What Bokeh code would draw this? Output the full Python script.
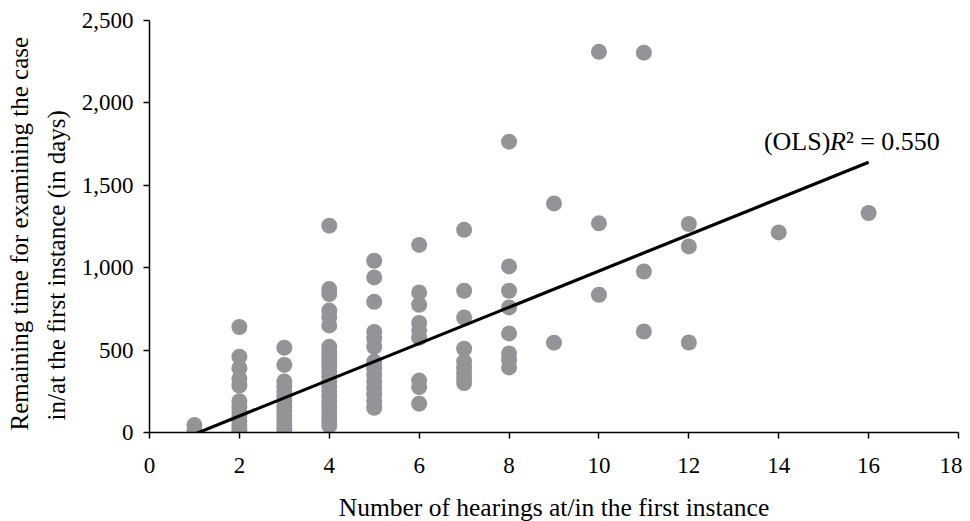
from bokeh.plotting import figure
from bokeh.models import Range1d, FixedTicker, NumeralTickFormatter, Label, Title, ColumnDataSource
from bokeh.embed import file_html
from bokeh.resources import INLINE

# ---- data ----
hearings_1 = [1, 1]
days_1 = [45, 5]
hearings_2 = [2] * 13
days_2 = [640, 460, 390, 325, 285, 190, 160, 130, 100, 70, 40, 15, 0]
hearings_3 = [3] * 13
days_3 = [515, 410, 310, 280, 250, 220, 190, 160, 130, 100, 70, 40, 20]
hearings_4 = [4] * 23
days_4 = [1255, 870, 840, 740, 700, 650, 520, 490, 460, 430, 400, 370, 340,
          310, 280, 250, 220, 190, 160, 130, 100, 70, 40]
hearings_5 = [5] * 14
days_5 = [1042, 941, 793, 610, 570, 520, 430, 390, 350, 310, 270, 230, 190, 150]
hearings_6 = [6] * 9
days_6 = [1138, 850, 775, 665, 620, 575, 315, 275, 175]
hearings_7 = [7] * 9
days_7 = [1230, 860, 698, 508, 430, 395, 360, 330, 300]
hearings_8 = [8] * 8
days_8 = [1765, 1008, 860, 759, 601, 480, 440, 395]
hearings_9 = [9, 9]
days_9 = [1390, 545]
hearings_10 = [10, 10, 10]
days_10 = [2310, 1269, 836]
hearings_11 = [11, 11, 11]
days_11 = [2305, 977, 613]
hearings_12 = [12, 12, 12]
days_12 = [1265, 1129, 546]
hearings_14 = [14]
days_14 = [1214]
hearings_16 = [16]
days_16 = [1332]

hearings = (hearings_1 + hearings_2 + hearings_3 + hearings_4 + hearings_5 + hearings_6 +
            hearings_7 + hearings_8 + hearings_9 + hearings_10 + hearings_11 + hearings_12 +
            hearings_14 + hearings_16)
days = (days_1 + days_2 + days_3 + days_4 + days_5 + days_6 + days_7 + days_8 +
        days_9 + days_10 + days_11 + days_12 + days_14 + days_16)

# OLS fit line (as drawn in the reference)
ols_x = [1, 16]
ols_intercept = -120
ols_slope = 110
ols_y = [ols_intercept + ols_slope * v for v in ols_x]

x_ticks = [0, 2, 4, 6, 8, 10, 12, 14, 16, 18]
y_ticks = [0, 500, 1000, 1500, 2000, 2500]

x_title = "Number of hearings at/in the first instance"
y_title_1 = "Remaining time for examining the case"
y_title_2 = "in/at the first instance (in days)"

FONT = "Liberation Serif"
DOT = "#939498"

p = figure(frame_width=809, frame_height=412, x_range=Range1d(0, 18), y_range=Range1d(0, 2500),
           output_backend="svg", toolbar_location=None,
           min_border_left=149, min_border_right=4, min_border_top=20, min_border_bottom=80)
p.outline_line_color = None
p.grid.visible = False
p.background_fill_color = "white"
p.border_fill_color = "white"

src = ColumnDataSource(dict(x=hearings, y=days))
p.scatter("x", "y", source=src, size=16, fill_color=DOT, line_color=None)
p.line(ols_x, ols_y, line_color="black", line_width=3.2)

for ax in (p.xaxis[0], p.yaxis[0]):
    ax.axis_line_color = "black"
    ax.axis_line_width = 1.5
    ax.major_tick_line_color = "black"
    ax.major_tick_line_width = 1.5
    ax.major_tick_in = 0
    ax.major_tick_out = 6
    ax.minor_tick_line_color = None
    ax.major_label_text_font = FONT
    ax.major_label_text_font_size = "23px"
    ax.major_label_text_color = "black"
    ax.axis_label_text_font = FONT
    ax.axis_label_text_font_size = "25.5px"
    ax.axis_label_text_font_style = "normal"
    ax.axis_label_text_color = "black"

p.xaxis.ticker = FixedTicker(ticks=x_ticks)
p.yaxis.ticker = FixedTicker(ticks=y_ticks)
p.yaxis.formatter = NumeralTickFormatter(format="0,0")
p.xaxis.axis_label = x_title
p.xaxis.major_label_standoff = 19
p.yaxis.major_label_standoff = 10
p.xaxis.axis_label_standoff = 17

# y-axis title, two lines (inner line added first, next to the axis),
# each starting near the bottom of the plot area like the reference
t2 = Title(text=y_title_2, align="left", offset=12, standoff=17,
           text_font=FONT, text_font_size="25px", text_font_style="normal", text_color="black")
t1 = Title(text=y_title_1, align="left", offset=2, standoff=0,
           text_font=FONT, text_font_size="25px", text_font_style="normal", text_color="black")
p.add_layout(t2, "left")
p.add_layout(t1, "left")

# annotation "(OLS)R² = 0.550"
ann_x = 13.67
ann_y = 1765
p.add_layout(Label(x=ann_x, y=ann_y, text="(OLS)", text_font=FONT, text_font_size="26px",
                   text_color="black", text_baseline="alphabetic"))
p.add_layout(Label(x=ann_x, y=ann_y, x_offset=66, text="R", text_font=FONT, text_font_size="26px",
                   text_font_style="italic", text_color="black", text_baseline="alphabetic"))
p.add_layout(Label(x=ann_x, y=ann_y, x_offset=82, text="² = 0.550", text_font=FONT,
                   text_font_size="26px", text_color="black", text_baseline="alphabetic"))

open("out.html", "w").write(file_html(p, INLINE))
